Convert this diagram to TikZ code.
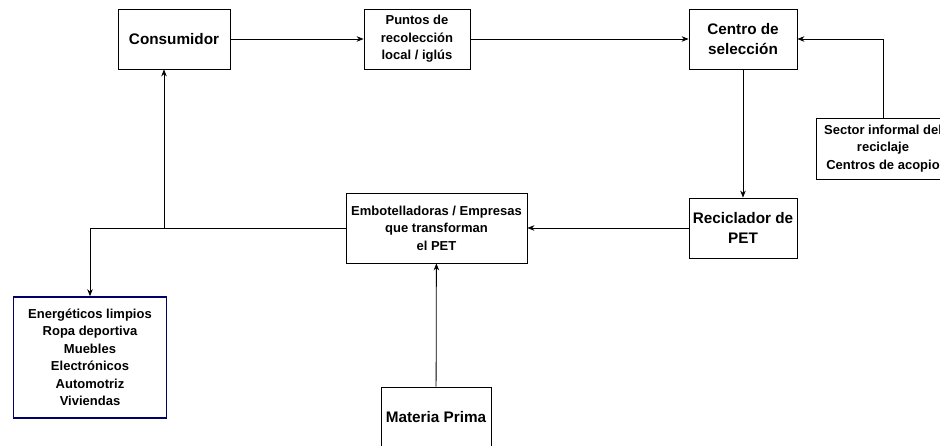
\documentclass[tikz,border=0pt]{standalone}
\usepackage{fontspec}
\setmainfont{Liberation Sans}
\usetikzlibrary{arrows.meta}
\definecolor{azulmarino}{HTML}{000066}

\begin{document}
\begin{tikzpicture}[x=1pt, y=-1pt, >={Stealth[length=7pt, width=5.5pt]}, line width=0.8pt,
    caja/.style={draw, fill=white, align=center, inner sep=2pt,
        font=\fontsize{13}{17.5}\selectfont\bfseries},
    cajagrande/.style={caja, font=\fontsize{15.3}{20}\selectfont\bfseries}]
    % marco del dibujo
    \useasboundingbox (0, 0) rectangle (940, 446);
    \clip (0, 0) rectangle (940, 446);

    % fila superior
    \node[cajagrande, minimum width=112pt, minimum height=60pt] (consumidor) at (174, 39) {Consumidor};
    \node[caja, minimum width=106pt, minimum height=60pt] (puntos) at (417, 39) {Puntos de\\recolección\\local / iglús};
    \node[cajagrande, minimum width=108pt, minimum height=60pt] (centro) at (743, 39) {Centro de\\selección};

    % sector informal (cortado en el borde derecho)
    \node[caja, minimum width=134pt, minimum height=61pt] (sector) at (883, 148.5) {Sector informal del\\reciclaje\\Centros de acopio};

    % fila central
    \node[cajagrande, minimum width=108pt, minimum height=60pt] (reciclador) at (743, 228) {Reciclador de\\PET};
    \node[caja, minimum width=181pt, minimum height=70pt] (embot) at (436.5, 228) {Embotelladoras / Empresas\\que transforman\\el PET};

    % fila inferior
    \node[cajagrande, minimum width=110pt, minimum height=60pt] (materia) at (436, 417) {Materia Prima};
    \node[caja, draw=azulmarino, line width=1.6pt, minimum width=153pt, minimum height=121pt] (productos) at (90, 357.5)
        {Energéticos limpios\\Ropa deportiva\\Muebles\\Electrónicos\\Automotriz\\Viviendas};

    % flechas
    \draw[->] (consumidor) -- (puntos);
    \draw[->] (puntos) -- (centro);
    \draw[->] (sector.north) |- (centro.east);
    \draw[->] (centro) -- (reciclador);
    \draw[->] (reciclador) -- (embot);
    \draw[->] (materia) -- (embot);

    % salida de las embotelladoras
    \coordinate (rama) at (164, 228);
    \draw[->] (embot.west) -| (productos.north);
    \draw[->] (rama) -- (rama |- consumidor.south);
\end{tikzpicture}
\end{document}
